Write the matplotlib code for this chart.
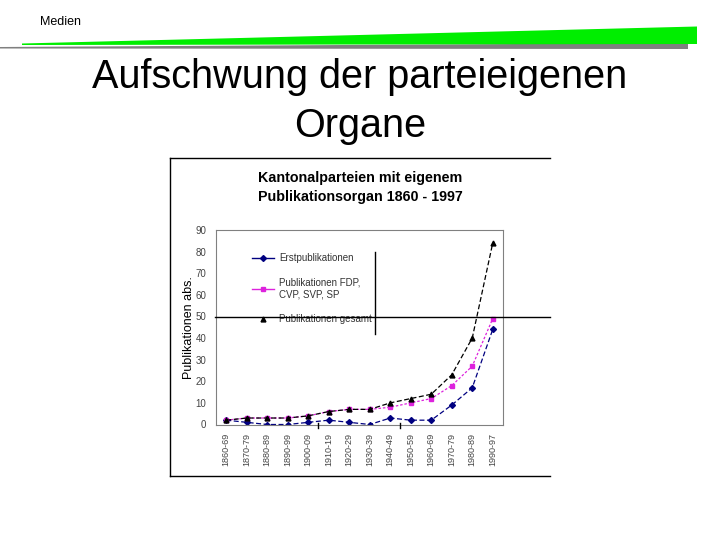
import matplotlib.pyplot as plt
from matplotlib.lines import Line2D
from matplotlib.patches import Polygon

plt.rcParams['font.family'] = ['Liberation Sans', 'DejaVu Sans']

perioden = ['1860-69', '1870-79', '1880-89', '1890-99', '1900-09', '1910-19', '1920-29',
            '1930-39', '1940-49', '1950-59', '1960-69', '1970-79', '1980-89', '1990-97']
erst = [2, 1, 0, 0, 1, 2, 1, 0, 3, 2, 2, 9, 17, 44]
fdp = [2, 3, 3, 3, 4, 6, 7, 7, 8, 10, 12, 18, 27, 49]
gesamt = [2, 3, 3, 3, 4, 6, 7, 7, 10, 12, 14, 23, 40, 84]

fig = plt.figure(figsize=(7.2, 5.4), dpi=100)
W, H = 720, 540

def fx(x):
    return x / W

def fy(y):
    return 1 - y / H

# header decoration
fig.text(fx(40), fy(22), 'Medien', fontsize=9, va='center', ha='left')
gray = Polygon([(fx(0), fy(47)), (fx(688), fy(43)), (fx(688), fy(49)), (fx(0), fy(48.5))],
               closed=True, transform=fig.transFigure, color='#808080', lw=0)
green = Polygon([(fx(22), fy(43.5)), (fx(697), fy(26.5)), (fx(697), fy(44)), (fx(22), fy(45))],
                closed=True, transform=fig.transFigure, color='#00ee00', lw=0)
fig.add_artist(gray)
fig.add_artist(green)

fig.text(0.5, fy(77), 'Aufschwung der parteieigenen', fontsize=28.5, ha='center', va='center')
fig.text(0.5, fy(126), 'Organe', fontsize=28.5, ha='center', va='center')

# chart box
for xs, ys in [((170, 550), (158, 158)), ((170, 170), (158, 476)), ((170, 550), (476, 476))]:
    fig.add_artist(Line2D([fx(xs[0]), fx(xs[1])], [fy(ys[0]), fy(ys[1])],
                          transform=fig.transFigure, color='black', lw=1))

fig.text(0.5, fy(178), 'Kantonalparteien mit eigenem', fontsize=10.3, fontweight='bold',
         ha='center', va='center')
fig.text(0.5, fy(197), 'Publikationsorgan 1860 - 1997', fontsize=10.3, fontweight='bold',
         ha='center', va='center')

ax = fig.add_axes([fx(216), fy(424.5), fx(503) - fx(216), fy(230) - fy(424.5)])
x = range(len(perioden))
ax.plot(x, erst, color='#000080', ls=(0, (4, 2)), lw=0.9, marker='D', ms=3)
ax.plot(x, fdp, color='#dd22dd', ls=(0, (2, 1.5)), lw=0.9, marker='s', ms=3.5)
ax.plot(x, gesamt, color='black', ls=(0, (4, 2)), lw=0.9, marker='^', ms=3.5)

ax.set_xlim(-0.5, len(perioden) - 0.5)
ax.set_ylim(0, 90)
ax.set_yticks(range(0, 91, 10))
ax.set_xticks(list(x))
ax.set_xticklabels(perioden, rotation=90, fontsize=6.5, color='#444444')
ax.tick_params(axis='y', labelsize=7, labelcolor='#444444', length=0, pad=7)
ax.tick_params(axis='x', length=0, pad=6)
for s in ax.spines.values():
    s.set_color('#808080')
    s.set_linewidth(0.8)
ax.set_ylabel('Publikationen abs.', fontsize=9, labelpad=0)

handles = [
    Line2D([], [], color='#000080', lw=1, marker='D', ms=3),
    Line2D([], [], color='#dd22dd', lw=1, marker='s', ms=3.5),
    Line2D([], [], color='black', lw=0, marker='^', ms=3.5),
]
ax.legend(handles, ['Erstpublikationen', 'Publikationen FDP,\nCVP, SVP, SP', 'Publikationen gesamt'],
          loc='upper left', bbox_to_anchor=(0.095, 0.925), frameon=False, fontsize=7.0,
          handlelength=2.3, handletextpad=0.5, labelspacing=1.5, labelcolor='#333333')

# stray lines from the pasted chart
fig.add_artist(Line2D([fx(215), fx(550)], [fy(316.5), fy(316.5)], transform=fig.transFigure,
                      color='black', lw=1))
fig.add_artist(Line2D([fx(375), fx(375)], [fy(252), fy(334)], transform=fig.transFigure,
                      color='black', lw=1))
for xv in (318, 400):
    fig.add_artist(Line2D([fx(xv), fx(xv)], [fy(423), fy(428)], transform=fig.transFigure,
                          color='black', lw=1))

fig.savefig('out.png', dpi=100)
